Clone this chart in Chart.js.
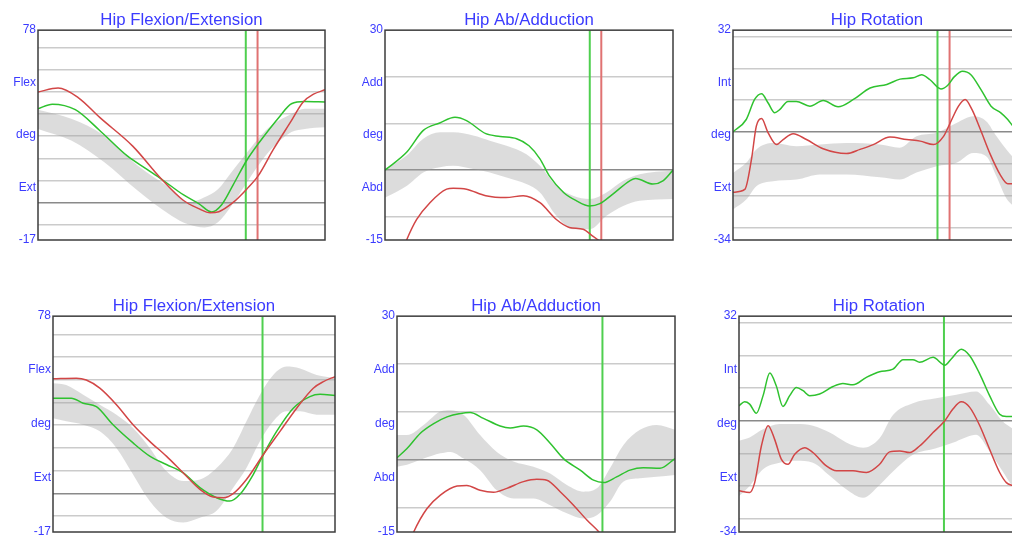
<!DOCTYPE html>
<html><head><meta charset="utf-8">
<script src="https://cdn.jsdelivr.net/npm/chart.js@4/dist/chart.umd.min.js"></script>
<style>
html,body{margin:0;padding:0;background:#fff;overflow:hidden;width:1012px;height:554px;position:relative}
</style></head><body>
<script>
// ---------- titles & axis labels ----------
const titleFlex = 'Hip Flexion/Extension';
const titleAbd = 'Hip Ab/Adduction';
const titleRot = 'Hip Rotation';
const rangeFlex = [-17, 78];
const rangeAbd = [-15, 30];
const rangeRot = [-34, 32];
const labelsFlex = ['-17', 'Ext', 'deg', 'Flex', '78'];
const labelsAbd = ['-15', 'Abd', 'deg', 'Add', '30'];
const labelsRot = ['-34', 'Ext', 'deg', 'Int', '32'];
const gridFlex = [-10, 0, 10, 20, 30, 40, 50, 60, 70];
const gridAbd = [-10, 0, 10, 20];
const gridRot = [-30, -20, -10, 0, 10, 20, 30];

// ---------- top-left: flexion ----------
const tlRedX = [0, 7, 14, 21.5, 33, 43, 50.6, 56, 60, 63, 68, 72.7, 76.7, 82, 87.8, 92.4, 96, 100];
const tlRedY = [50, 51.8, 47.5, 38.5, 25.5, 10.6, 1, -2.8, -4.7, -4.2, 0, 6, 12, 24, 36, 45.5, 49, 51];
const tlGreenX = [0, 5, 13, 21.5, 31, 38, 43, 50.6, 56, 60.5, 64, 68, 72.7, 77, 84, 88.3, 93, 100];
const tlGreenY = [42.4, 44.5, 42, 32.6, 21.2, 15, 10.6, 3.5, -0.5, -4.3, -1, 8, 19, 27, 38.6, 44.7, 45.7, 45.5];
const tlBandX = [0, 11.6, 23, 34.8, 46.5, 52.3, 58, 62.7, 67.4, 72, 76.7, 81.3, 88.3, 93, 100];
const tlBandHi = [42, 37.9, 30.3, 16.6, 6, 0, 2.4, 6, 13.7, 21.2, 28.8, 34.8, 40, 42.4, 42.4];
const tlBandLo = [33.3, 28, 18.3, 5.3, -6, -9.9, -11.3, -9, -1.5, 7.5, 16.6, 24.2, 31.9, 33.3, 34];
const tlGreenMark = 72.4;
const tlRedMark = 76.5;

// ---------- top-middle: ab/adduction ----------
const tmRedX = [5, 7.5, 11, 15.6, 21.4, 23.7, 28.3, 35, 42, 48, 53.8, 59.5, 64, 68.8, 72, 74, 78];
const tmRedY = [-19, -15, -10.6, -7, -4.1, -3.9, -4.1, -5.5, -5.9, -5.5, -7, -10.6, -12.3, -12.7, -14.1, -15, -18];
const tmGreenX = [0, 7.5, 13.3, 19, 24.3, 28.3, 35, 40, 45.7, 50, 53.8, 57, 62, 66.5, 71, 74.6, 79, 85, 87, 93, 96.5, 100];
const tmGreenY = [0, 3.8, 8.5, 10.1, 11.3, 10.6, 7.8, 7.2, 6.7, 5.2, 2.4, -1.2, -4.8, -6.6, -7.7, -7.2, -5.2, -2.3, -1.8, -3, -2.3, 0];
const tmBandX = [0, 7.5, 13.3, 19.1, 23.7, 30.6, 36.4, 42.2, 49.1, 53.8, 59.5, 65.3, 71.1, 76.9, 82.7, 88.4, 100];
const tmBandHi = [0.2, 3.1, 6.7, 8.1, 8.1, 7.4, 6.3, 5.2, 3.4, 0.9, -3.4, -5.5, -6.2, -4.8, -2.3, -0.9, -0.1];
const tmBandLo = [-5.9, -3.4, -0.5, 0.6, 0.9, 0.2, -0.5, -1.6, -3, -4.8, -9.8, -12.7, -12.7, -9.8, -7.7, -6.6, -6.2];
const tmGreenMark = 71.1;
const tmRedMark = 75.1;

// ---------- top-right: rotation ----------
const trRedX = [0, 4.1, 6.4, 8.1, 9.9, 12.2, 15.1, 17.4, 20.9, 25.5, 31.3, 39.4, 44.1, 48.7, 54.5, 60.3, 65, 69.6, 73.1, 75.4, 78.3, 80.6, 83, 85.8, 89.3, 92.8, 95.4, 97.2, 100];
const trRedY = [-19, -18.1, -8.7, 1.8, 4.2, -0.3, -4, -2.4, -0.6, -2.4, -5.3, -6.8, -5.5, -4, -1.6, -2.4, -2.9, -4, -1.4, 2.8, 8.1, 10.2, 7, 1, -7, -13.5, -16.3, -16.3, -16.5];
const trGreenX = [0, 4.6, 7.5, 9.9, 12.2, 14.5, 16.2, 19.1, 22, 26.7, 31.3, 36.5, 41.8, 47.6, 53.4, 58, 62.6, 65.5, 68.4, 72.2, 74.5, 76.8, 79.7, 82.6, 86.1, 89.6, 93, 95.4, 97.2, 100];
const trGreenY = [0, 3.9, 10.2, 12, 9.1, 6, 7, 9.6, 9.6, 8.1, 9.9, 7.9, 10.2, 13.8, 14.9, 16.6, 17, 18, 16.4, 13.5, 14.6, 17.3, 19.1, 18, 13.3, 8.1, 6, 3.9, 1.8, -1];
const trBandX = [0, 4.6, 8.1, 13.9, 22, 30.2, 39.4, 51, 57.9, 63.7, 70.7, 77.6, 83.4, 88, 91.5, 95, 97, 100];
const trBandHi = [-12.9, -9.7, -5.5, -3.5, -4.5, -4, -3.5, -4, -5, -1.4, -0.3, 2.8, 4.9, 3.3, -1.4, -5.6, -7.7, -11];
const trBandLo = [-24.4, -21.3, -17.1, -15.5, -15, -13.4, -13.4, -14.3, -15, -12.8, -10.8, -9.7, -6.6, -7.7, -14, -21, -23, -26];
const trGreenMark = 71;
const trRedMark = 75.2;

// ---------- bottom-left: flexion ----------
const blRedX = [0, 8.3, 11.8, 16.6, 22.5, 28.4, 34.3, 40.2, 46.2, 52.1, 56.8, 60.4, 63.9, 68.6, 74.6, 80.5, 86.4, 92.3, 95.9, 100];
const blRedY = [50.4, 50.7, 49.9, 46.3, 39, 30.2, 22.9, 16.4, 9, 1.8, -1.6, -1.9, -0.1, 6.1, 17.1, 27.3, 37.5, 46.3, 49.2, 51.4];
const blGreenX = [0, 6.5, 10.7, 15.4, 21.3, 28.4, 34.3, 40.2, 46.2, 52.1, 58, 62.7, 66.3, 71, 74.6, 79.3, 85.2, 91.1, 94.7, 100];
const blGreenY = [41.9, 41.9, 39.7, 38.2, 30.2, 22.2, 16.4, 12.7, 9, 2.5, -1.9, -3.4, -0.4, 8.3, 17.1, 27.3, 37.5, 42.6, 43.6, 43.1];
const blBandX = [0, 4.7, 10.7, 16.6, 22.5, 28.4, 34.3, 40.2, 46.2, 52.1, 58, 63.9, 68.6, 73.4, 78.1, 82.8, 87.6, 93.5, 100];
const blBandHi = [48.5, 47.7, 43.4, 39, 34.6, 28.8, 20, 9.8, 5.4, 6.1, 11.2, 20, 31.7, 43.4, 52.1, 55.8, 55, 52.1, 50.7];
const blBandLo = [33.1, 31.7, 30.2, 27.3, 20, 8.3, -3.4, -10.7, -12.8, -10.7, -7.7, 2.5, 11.2, 22.9, 31.7, 36.1, 36.1, 34.6, 34.6];
const blGreenMark = 74.3;

// ---------- bottom-middle: ab/adduction ----------
const bmRedX = [4, 6, 10.8, 15.6, 21.6, 25.1, 29.9, 34.7, 39.5, 45.5, 50.3, 53.9, 58.7, 63.5, 68.3, 72.5, 75.4];
const bmRedY = [-18, -15, -10.1, -7.3, -5.4, -5.3, -6.3, -6.7, -5.9, -4.5, -4, -4.2, -6.6, -9.4, -12.5, -14.9, -17];
const bmGreenX = [0, 3.6, 8.4, 13.2, 18, 22.8, 26.3, 31.1, 37.1, 40.7, 45.5, 50.3, 55.1, 59.9, 65.9, 70.7, 74.3, 79, 83.8, 88.6, 94.6, 100];
const bmGreenY = [0.5, 2.4, 5.6, 7.6, 9, 9.7, 9.9, 8.7, 7.1, 6.7, 7.1, 6.3, 3.5, 0.3, -2.1, -4.2, -4.7, -3.5, -2.1, -1.6, -1.7, 0.3];
const bmBandX = [0, 3.6, 9.6, 15.6, 19.2, 24, 29.9, 35.9, 41.9, 49.1, 55.1, 61.1, 67.1, 71.9, 76.6, 81.4, 87.4, 93.4, 100];
const bmBandHi = [5.2, 5.2, 7.3, 10.1, 10.4, 9.4, 5.2, 1.7, -0.3, -1.4, -2.8, -5.2, -6.6, -5.9, -1.7, 3.1, 6.3, 7.3, 6.3];
const bmBandLo = [-1.4, -1, 0.3, 1.4, 1.7, 0.3, -2.1, -6.3, -8, -8, -9.4, -11.1, -12.2, -11.5, -8.7, -4.5, -3.8, -3.5, -3.1];
const bmGreenMark = 73.9;

// ---------- bottom-right: rotation ----------
const brRedX = [0, 3.8, 5.6, 8, 10.4, 12.7, 15.1, 17.5, 19.9, 23.5, 26.4, 31.2, 34.8, 40.7, 45.5, 50.2, 53.8, 57.4, 61, 64.5, 69.3, 73.5, 76.4, 79.4, 82.4, 86, 89.5, 93.1, 95.5, 97.4, 100];
const brRedY = [-21.4, -21.9, -18.9, -7.7, -1.5, -5.6, -11.7, -13.3, -10.2, -8.2, -9.7, -13.8, -15.3, -15.3, -15.8, -13.3, -9.5, -9.2, -9.7, -7.7, -3.6, 0, 3.6, 5.8, 4.1, -1.5, -8.7, -15.8, -18.9, -19.7, -20];
const brGreenX = [0, 2, 3.8, 6.2, 8.6, 11, 13.3, 15.7, 18.1, 20.5, 22.9, 25.2, 28.8, 33.6, 37.1, 40.7, 45.5, 50.2, 55, 58.6, 62.1, 64.5, 69.3, 73.5, 75.8, 79.4, 82.4, 86, 89.5, 93.1, 95.5, 97.4, 100];
const brGreenY = [4.6, 5.8, 5.1, 2.3, 7.7, 14.6, 10.7, 4.4, 7.7, 10.2, 9.2, 7.7, 8.2, 10.5, 11.4, 11, 13.3, 15, 15.8, 18.7, 18.7, 17.9, 19.4, 17, 18.9, 21.9, 19.9, 14.3, 7.7, 2, 1.3, 1.3, 1.5];
const brBandX = [0, 3.8, 8.6, 14.5, 20.5, 26.4, 32.4, 38.3, 44.3, 50.2, 55, 62.1, 70.4, 77.6, 84.7, 89.5, 94.2, 97.4, 100];
const brBandHi = [-6.1, -5.1, -2.6, -1, -1, -1.5, -3.6, -6.6, -8.2, -5.3, 1.8, 5.4, 6.9, 8, 9, 4.9, -0.2, -2.2, -4];
const brBandLo = [-23, -19.9, -14.8, -12.8, -12.2, -12.8, -16.8, -20.9, -23.5, -19.6, -15.5, -10.4, -8.4, -6.3, -4.3, -9.4, -15.5, -19.6, -21];
const brGreenMark = 73.2;

// ---------- styling ----------
const FONT = "'Liberation Sans', Arial, sans-serif";
const BLUE = '#3b3bff';
const RED = '#d24646';
const GREEN = '#2fc22f';
const RED_MARK = '#e07272';
const GREEN_MARK = '#4fcf4f';
const BAND = 'rgba(160,160,160,0.37)';

const zip = (xs, ys) => xs.map((x, i) => ({ x, y: ys[i] }));

const framePlugin = {
  id: 'frame',
  afterDraw(chart) {
    const a = chart.chartArea, ctx = chart.ctx;
    ctx.save();
    ctx.strokeStyle = '#3c3c3c';
    ctx.lineWidth = 1.5;
    ctx.strokeRect(a.left, a.top, a.right - a.left, a.bottom - a.top);
    ctx.restore();
  }
};

function panel(p) {
  const canvas = document.createElement('canvas');
  canvas.width = p.w; canvas.height = p.h;
  canvas.style.cssText = `position:absolute;left:${p.left}px;top:${p.top}px;width:${p.w}px;height:${p.h}px`;
  document.body.appendChild(canvas);
  const [min, max] = p.range;
  const labelVals = [0, 1, 2, 3, 4].map(k => min + k * (max - min) / 4);
  const allTicks = labelVals.concat(p.grid).sort((a, b) => a - b);
  const isLabel = v => labelVals.some(l => Math.abs(l - v) < 1e-6);
  const datasets = [
    { data: zip(p.bandX, p.bandLo), borderWidth: 0, pointRadius: 0, fill: false, order: 10 },
    { data: zip(p.bandX, p.bandHi), borderWidth: 0, pointRadius: 0, fill: '-1', backgroundColor: BAND, order: 10 }
  ];
  p.marks.forEach(m => datasets.push({
    data: [{ x: m.x, y: min }, { x: m.x, y: max }],
    borderColor: m.c, borderWidth: 2, pointRadius: 0, tension: 0,
    cubicInterpolationMode: 'default', order: 5
  }));
  datasets.push({ data: zip(p.greenX, p.greenY), borderColor: GREEN, borderWidth: 1.5, pointRadius: 0, order: 2 });
  datasets.push({ data: zip(p.redX, p.redY), borderColor: RED, borderWidth: 1.5, pointRadius: 0, order: 1 });
  new Chart(canvas, {
    type: 'line',
    data: { datasets },
    options: {
      responsive: false, animation: false,
      layout: { padding: { left: 0, right: 2, top: 0, bottom: 10 } },
      elements: { line: { cubicInterpolationMode: 'monotone' } },
      plugins: {
        legend: { display: false }, tooltip: { enabled: false },
        title: {
          display: true, text: p.title, color: BLUE, fullSize: false,
          font: { family: FONT, size: 16.8, weight: 'normal' },
          padding: { top: 10, bottom: 0 }
        }
      },
      scales: {
        x: { type: 'linear', min: 0, max: 100, display: false },
        y: {
          type: 'linear', min, max,
          afterBuildTicks(axis) { axis.ticks = allTicks.map(v => ({ value: v })); },
          afterFit(axis) { axis.width = p.axisW; },
          border: { display: false },
          grid: {
            drawTicks: false, lineWidth: 1.5,
            color: ctx => {
              const v = ctx.tick ? ctx.tick.value : null;
              if (v === null || isLabel(v)) return 'rgba(0,0,0,0)';
              return v === 0 ? '#8a8a8a' : '#cbcbcb';
            }
          },
          ticks: {
            autoSkip: false, padding: 2, color: BLUE,
            font: { family: FONT, size: 12 },
            callback: v => {
              const k = labelVals.findIndex(l => Math.abs(l - v) < 1e-6);
              return k >= 0 ? p.labels[k] : '';
            }
          }
        }
      }
    },
    plugins: [framePlugin]
  });
}

panel({ left: 0, top: 0, w: 327, h: 250, axisW: 38, title: titleFlex, range: rangeFlex, labels: labelsFlex, grid: gridFlex,
  redX: tlRedX, redY: tlRedY, greenX: tlGreenX, greenY: tlGreenY, bandX: tlBandX, bandHi: tlBandHi, bandLo: tlBandLo,
  marks: [{ x: tlGreenMark, c: GREEN_MARK }, { x: tlRedMark, c: RED_MARK }] });
panel({ left: 345, top: 0, w: 330, h: 250, axisW: 40, title: titleAbd, range: rangeAbd, labels: labelsAbd, grid: gridAbd,
  redX: tmRedX, redY: tmRedY, greenX: tmGreenX, greenY: tmGreenY, bandX: tmBandX, bandHi: tmBandHi, bandLo: tmBandLo,
  marks: [{ x: tmGreenMark, c: GREEN_MARK }, { x: tmRedMark, c: RED_MARK }] });
panel({ left: 690, top: 0, w: 333, h: 250, axisW: 43, title: titleRot, range: rangeRot, labels: labelsRot, grid: gridRot,
  redX: trRedX, redY: trRedY, greenX: trGreenX, greenY: trGreenY, bandX: trBandX, bandHi: trBandHi, bandLo: trBandLo,
  marks: [{ x: trGreenMark, c: GREEN_MARK }, { x: trRedMark, c: RED_MARK }] });
panel({ left: 0, top: 286, w: 337, h: 256, axisW: 53, title: titleFlex, range: rangeFlex, labels: labelsFlex, grid: gridFlex,
  redX: blRedX, redY: blRedY, greenX: blGreenX, greenY: blGreenY, bandX: blBandX, bandHi: blBandHi, bandLo: blBandLo,
  marks: [{ x: blGreenMark, c: GREEN_MARK }] });
panel({ left: 355, top: 286, w: 322, h: 256, axisW: 42, title: titleAbd, range: rangeAbd, labels: labelsAbd, grid: gridAbd,
  redX: bmRedX, redY: bmRedY, greenX: bmGreenX, greenY: bmGreenY, bandX: bmBandX, bandHi: bmBandHi, bandLo: bmBandLo,
  marks: [{ x: bmGreenMark, c: GREEN_MARK }] });
panel({ left: 695, top: 286, w: 326, h: 256, axisW: 44, title: titleRot, range: rangeRot, labels: labelsRot, grid: gridRot,
  redX: brRedX, redY: brRedY, greenX: brGreenX, greenY: brGreenY, bandX: brBandX, bandHi: brBandHi, bandLo: brBandLo,
  marks: [{ x: brGreenMark, c: GREEN_MARK }] });
</script>
</body></html>
